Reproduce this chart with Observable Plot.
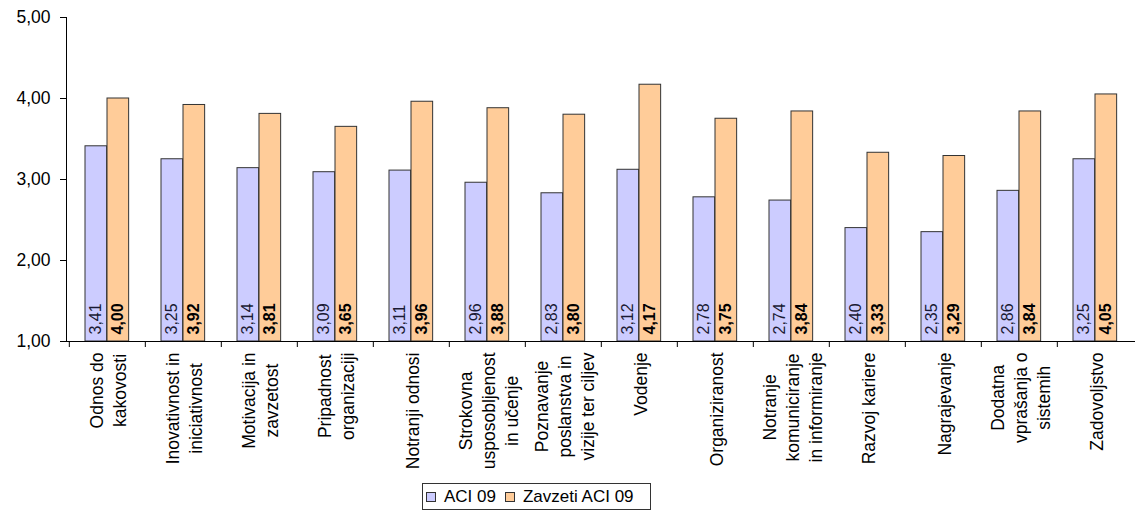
<!DOCTYPE html>
<html>
<head>
<meta charset="utf-8">
<script src="https://cdn.jsdelivr.net/npm/d3@7"></script>
<script src="https://cdn.jsdelivr.net/npm/@observablehq/plot@0.6"></script>
<style>
  html, body { margin: 0; padding: 0; background: #fff; }
  #wrap { position: relative; width: 1135px; height: 516px; font-family: Arial, "Liberation Sans", sans-serif; }
  #legend {
    position: absolute; left: 422px; top: 483px; width: 227px; height: 25px;
    border: 1px solid #333; background: #fff; box-sizing: content-box;
    display: flex; align-items: center; font-size: 17px; color: #000;
  }
  #legend .item { display: flex; align-items: center; margin-left: 3px; margin-right: 6px; }
  #legend .sw { width: 8px; height: 8px; border: 1px solid #333; margin-right: 8px; }
</style>
</head>
<body>
<div id="wrap">
  <div id="chart"></div>
  <div id="legend"></div>
</div>
<script>
// Survey dimensions (axis categories)
const categories = [
  "Odnos do\nkakovosti",
  "Inovativnost in\niniciativnost",
  "Motivacija in\nzavzetost",
  "Pripadnost\norganizaciji",
  "Notranji odnosi",
  "Strokovna\nusposobljenost\nin učenje",
  "Poznavanje\nposlanstva in\nvizije ter ciljev",
  "Vodenje",
  "Organiziranost",
  "Notranje\nkomuniciranje\nin informiranje",
  "Razvoj kariere",
  "Nagrajevanje",
  "Dodatna\nvprašanja o\nsistemih",
  "Zadovoljstvo"
];

// Average scores per series
const aci09 = [3.41, 3.25, 3.14, 3.09, 3.11, 2.96, 2.83, 3.12, 2.78, 2.74, 2.40, 2.35, 2.86, 3.25];
const zavzetiAci09 = [4.00, 3.92, 3.81, 3.65, 3.96, 3.88, 3.80, 4.17, 3.75, 3.84, 3.33, 3.29, 3.84, 4.05];

const seriesNames = ["ACI 09", "Zavzeti ACI 09"];
const seriesColors = ["#CCCCFF", "#FFCC99"];
const yTicks = [1, 2, 3, 4, 5];

const fmt = v => v.toFixed(2).replace(".", ",");
const font = 'Arial, "Liberation Sans", sans-serif';

const W = 1135, H = 478;
const mL = 66, mR = 0, mT = 17, mB = 137;
const bw = (W - mL - mR) / categories.length;

const rows1 = categories.map((c, i) => ({cat: c, v: aci09[i]}));
const rows2 = categories.map((c, i) => ({cat: c, v: zavzetiAci09[i]}));

// measure the widest line of a label, so multi-line labels can be centred as a block
const ctx = document.createElement("canvas").getContext("2d");
const labelSize = 17.5;
ctx.font = `${labelSize}px "Liberation Sans", Arial`;
const widest = s => Math.max(...s.split("\n").map(l => ctx.measureText(l).width));

const labelMarks = categories.map(c => Plot.text([c], {
  x: d => d, frameAnchor: "bottom", text: d => d,
  rotate: -90, textAnchor: "middle", lineAnchor: "middle", lineHeight: 1.3,
  fontSize: labelSize, fill: "#000",
  dy: 11 + widest(c) / 2
}));

const chart = Plot.plot({
  width: W, height: H,
  marginLeft: mL, marginRight: mR, marginTop: mT, marginBottom: mB,
  style: {fontFamily: font, background: "#fff", color: "#000", overflow: "visible"},
  x: {type: "band", domain: categories, padding: 0, axis: null},
  y: {domain: [1, 5], axis: null},
  marks: [
    Plot.barY(rows1, {x: "cat", y1: 1, y2: "v", fill: seriesColors[0], stroke: "#333", strokeWidth: 1,
      insetLeft: 16, insetRight: bw - 38}),
    Plot.barY(rows2, {x: "cat", y1: 1, y2: "v", fill: seriesColors[1], stroke: "#333", strokeWidth: 1,
      insetLeft: 38, insetRight: bw - 60}),
    Plot.text(rows1, {x: "cat", y: 1, text: d => fmt(d.v), rotate: -90, textAnchor: "start",
      lineAnchor: "middle", dx: -11.5, dy: -7, fontSize: 16, fill: "#1a1a33"}),
    Plot.text(rows2, {x: "cat", y: 1, text: d => fmt(d.v), rotate: -90, textAnchor: "start",
      lineAnchor: "middle", dx: 10.5, dy: -7, fontSize: 16, fontWeight: "bold", fill: "#000"}),
    Plot.axisY({ticks: yTicks, tickFormat: fmt, label: null, tickSize: 6, tickPadding: 10,
      fontSize: 17.5, stroke: "#000", fill: "#000"}),
    Plot.frame({anchor: "left", stroke: "#000"}),
    Plot.ruleY([1], {stroke: "#000"}),
    // tick marks between categories on the x axis
    Plot.ruleX(categories, {x: d => d, dx: -bw / 2, dy: 6, insetTop: (H - mB - mT) - 6, stroke: "#000"}),
    ...labelMarks
  ]
});
document.getElementById("chart").appendChild(chart);

// legend
const legend = d3.select("#legend");
seriesNames.forEach((name, i) => {
  const item = legend.append("div").attr("class", "item");
  item.append("div").attr("class", "sw").style("background", seriesColors[i]);
  item.append("span").text(name);
});
</script>
</body>
</html>
